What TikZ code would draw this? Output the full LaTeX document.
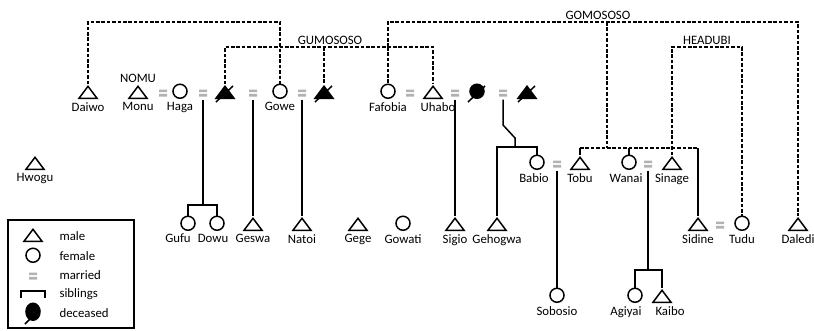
\documentclass[tikz,border=0pt]{standalone}
\usepackage{fontspec}
\setmainfont{Carlito}
\usetikzlibrary{positioning, shapes.geometric}

\newcommand{\kinfont}{\fontsize{12.8}{14}\selectfont}

\begin{document}
\begin{tikzpicture}[x=1pt, y=-1pt, node distance=10pt,
    every label/.style={inner sep=0pt, font=\kinfont},
    label distance=3pt,
    person/.style={draw, line width=1.5pt, inner sep=0pt, anchor=south},
    male/.style={person, isosceles triangle, isosceles triangle stretches,
        shape border rotate=90, minimum width=18pt, minimum height=12pt},
    female/.style={person, circle, minimum size=14pt},
    deceased/.style={fill=black},
    married/.style={minimum width=8pt, minimum height=7pt, inner sep=0pt, outer sep=3pt,
        path picture={\fill[gray!60]
            (path picture bounding box.north west) rectangle ([yshift=-2.6pt]path picture bounding box.north east)
            (path picture bounding box.south west) rectangle ([yshift=2.6pt]path picture bounding box.south east);}},
    clan name/.style={font=\kinfont, inner sep=0pt, anchor=south},
    clan/.style={line width=1.5pt, dash pattern=on 3.6pt off 1.8pt},
    descent/.style={line width=1.5pt},
    slash/.style={line width=1.5pt}]
    \useasboundingbox (0,0) rectangle (814,330);

    % first row
    \node[male, label=below:Daiwo] (Daiwo) at (88,99) {};
    \node[male, label=below:Monu] (Monu) at (138,99) {};
    \node[clan name, above=2pt of Monu] (Nomu) {NOMU};
    \node[married] (Married 1) at (163,93) {};
    \node[female, label=below:Haga] (Haga) at (180,99) {};
    \node[married] (Married 2) at (203,93) {};
    \node[male, deceased] (Deceased 1) at (225,99) {};
    \node[married] (Married 3) at (253,93) {};
    \node[female, label=below:Gowe] (Gowe) at (280,99) {};
    \node[married] (Married 4) at (302,93) {};
    \node[male, deceased] (Deceased 2) at (324,99) {};
    \node[female, label=below:Fafobia] (Fafobia) at (388,99) {};
    \node[married] (Married 5) at (410,93) {};
    \node[male, label={[xshift=5pt]below:Uhabo}] (Uhabo) at (433,99) {};
    \node[married] (Married 6) at (455,93) {};
    \node[female, deceased] (Deceased 3) at (477,99) {};
    \node[married] (Married 7) at (503,93) {};
    \node[male, deceased] (Deceased 4) at (527,99) {};

    % second row
    \node[male, label=below:Hwogu] (Hwogu) at (35,170) {};
    \node[female, label={[xshift=-3pt]below:Babio}] (Babio) at (537,170) {};
    \node[married] (Married 8) at (557,164) {};
    \node[male, label=below:Tobu] (Tobu) at (580,170) {};
    \node[female, label={[xshift=-3pt]below:Wanai}] (Wanai) at (629,170) {};
    \node[married] (Married 9) at (648,164) {};
    \node[male, label=below:Sinage] (Sinage) at (672,170) {};

    % third row
    \node[female, label={[xshift=-10pt]below:Gufu}] (Gufu) at (188,231) {};
    \node[female, label={[xshift=-4pt]below:Dowu}] (Dowu) at (217,231) {};
    \node[male, label=below:Geswa] (Geswa) at (253,231) {};
    \node[male, label=below:Natoi] (Natoi) at (302,231) {};
    \node[male, label=below:Gege] (Gege) at (358,231) {};
    \node[female, label=below:Gowati] (Gowati) at (403,231) {};
    \node[male, label=below:Sigio] (Sigio) at (455,231) {};
    \node[male, label=below:Gehogwa] (Gehogwa) at (497,231) {};
    \node[male, label=below:Sidine] (Sidine) at (698,231) {};
    \node[married] (Married 10) at (720,225) {};
    \node[female, label=below:Tudu] (Tudu) at (742,231) {};
    \node[male, label=below:Daledi] (Daledi) at (798,231) {};

    % last row
    \node[female, label=below:Sobosio] (Sobosio) at (557,303) {};
    \node[female, label={[xshift=-9pt]below:Agiyai}] (Agiyai) at (635,303) {};
    \node[male, label={[xshift=8pt]below:Kaibo}] (Kaibo) at (662,303) {};

    \foreach \n in {Deceased 1, Deceased 2, Deceased 3, Deceased 4}
        \draw[slash] (\n.south) ++(-9,3) -- ++(17,-16);

    % clans
    \node[clan name] (Gumososo) at (330,45) {GUMOSOSO};
    \node[clan name] (Gomososo) at (598,20) {GOMOSOSO};
    \node[clan name] (Headubi) at (707,45) {HEADUBI};

    \coordinate (Clan top) at (0,22);
    \coordinate (Clan mid) at (0,47);
    \coordinate (Cousin bar) at (607,148);
    \coordinate (Gufu bar) at (203,205);
    \coordinate (Babio bar) at (515,147);
    \coordinate (Agiyai bar) at (648,270);

    \draw[clan] (Daiwo.north) |- (Gowe |- Clan top) -- (Gowe.north);
    \draw[clan] (Deceased 1.north) |- (Uhabo |- Clan mid) -- (Uhabo.north);
    \foreach \n in {Deceased 2, Fafobia}
        \draw[clan] (\n |- Clan mid) -- (\n.north);
    \draw[clan] (Fafobia |- Clan mid) |- (Daledi |- Clan top) -- (Daledi.north);
    \draw[clan] (Cousin bar |- Clan top) -- (Cousin bar);
    \draw[clan] (Tobu |- Cousin bar) -- (Sidine |- Cousin bar);
    \draw[clan] (Sinage.north) |- (Tudu |- Clan mid) -- (Tudu.north);
    \foreach \n in {Tobu, Wanai, Sidine}
        \draw[descent] (\n |- Cousin bar) -- (\n.north);

    % descent
    \draw[descent] (Married 2.south) -- (Gufu bar);
    \draw[descent] (Gufu.north) |- (Gufu bar) -| (Dowu.north);
    \draw[descent] (Married 3.south) -- (Geswa.north);
    \draw[descent] (Married 4.south) -- (Natoi.north);
    \draw[descent] (Married 6.south) -- (Sigio.north);
    \draw[descent] (Married 7.south) -- (Married 7 |- 0,125) -- ([yshift=9pt]Babio bar) -- (Babio bar);
    \draw[descent] (Gehogwa.north) |- (Babio bar) -| (Babio.north);
    \draw[descent] (Married 8.south) -- (Sobosio.north);
    \draw[descent] (Married 9.south) -- (Agiyai bar);
    \draw[descent] (Agiyai.north) |- (Agiyai bar) -| (Kaibo.north);

    % key
    \draw[line width=1.5pt] (8,220) rectangle (134,328);
    \node[male] (Key male) at (33,242) {};
    \node[female] (Key female) at (33,263) {};
    \node[married] (Key married) at (33,276) {};
    \coordinate (Key siblings) at (33,291);
    \draw[descent] (Key siblings) ++(-12,7) |- ++(24,-7) -- ++(0,7);
    \node[person, ellipse, deceased, minimum width=14pt, minimum height=17pt] (Key deceased) at (33,321) {};
    \draw[slash] (Key deceased.south) ++(-8,3) -- ++(15,-15);
    \node[font=\kinfont, anchor=west] (Key male text) at (56,236) {male};
    \node[font=\kinfont, anchor=west] (Key female text) at (56,256) {female};
    \node[font=\kinfont, anchor=west] (Key married text) at (56,275) {married};
    \node[font=\kinfont, anchor=west] (Key siblings text) at (56,294) {siblings};
    \node[font=\kinfont, anchor=west] (Key deceased text) at (56,313) {deceased};
\end{tikzpicture}
\end{document}
